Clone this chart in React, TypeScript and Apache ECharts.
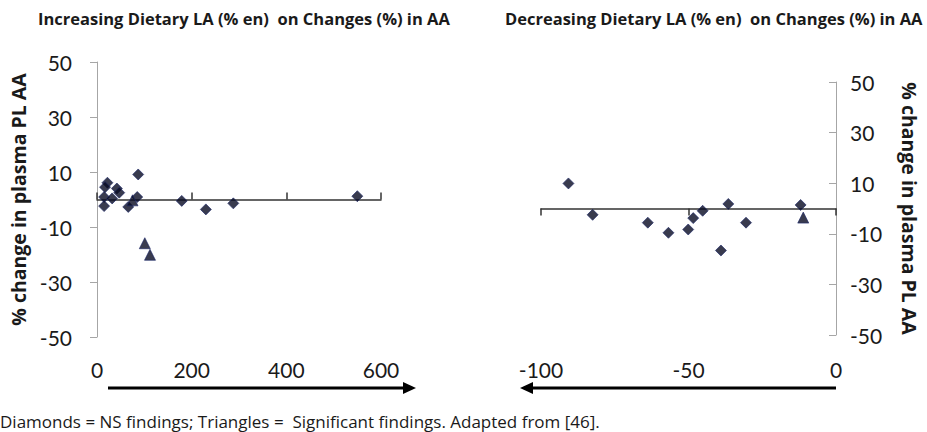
import React, { useEffect, useRef } from "react";
import * as echarts from "echarts";

const leftTitle = "Increasing Dietary LA (% en)  on Changes (%) in AA";
const rightTitle = "Decreasing Dietary LA (% en)  on Changes (%) in AA";
const yName = "% change in plasma PL AA";
const footnote = "Diamonds = NS findings; Triangles =  Significant findings. Adapted from [46].";

// Left panel: increasing LA
const leftDiamondX = [22, 17, 15, 15, 32, 42, 47, 66, 85, 87, 179, 230, 288, 550];
const leftDiamondY = [6.1, 4.5, 0.9, -2.4, 0.4, 4.0, 2.5, -2.7, 0.9, 9.1, -0.5, -3.6, -1.4, 1.2];
const leftTriangleX = [75, 101, 112];
const leftTriangleY = [-0.3, -15.9, -20.1];

// Right panel: decreasing LA
const rightDiamondX = [-90.7, -82.5, -63.8, -56.8, -50.1, -48.4, -45.2, -39.0, -36.5, -30.5, -12.0];
const rightDiamondY = [9.9, -2.5, -5.6, -9.6, -8.3, -3.8, -0.9, -16.6, 1.8, -5.6, 1.4];
const rightTriangleX = [-11.1];
const rightTriangleY = [-3.6];

const zip = (xs: number[], ys: number[]) => xs.map((x, i) => [x, ys[i]]);

const FONT = "Lato, 'Liberation Sans', sans-serif";
const BOLD_FONT = "'Open Sans', 'Liberation Sans', sans-serif";
const MARK = "#080a22";
const MARK_BORDER = "#1c2868";
const GRAY = "#a6a6a6";
const DARK = "#333333";

export default function App() {
  const ref = useRef<HTMLDivElement>(null);
  useEffect(() => {
    if (!ref.current) return;
    const chart = echarts.init(ref.current, null, { renderer: "svg" });
    const labelStyle = { fontSize: 21, color: "#1a1a1a", fontFamily: FONT };
    const nameStyle = { fontSize: 19.5, fontWeight: "bold" as const, color: "#1a1a1a", fontFamily: BOLD_FONT };
    const titleStyle = { fontSize: 16.5, fontWeight: "bold" as const, color: "#1a1a1a", fontFamily: BOLD_FONT };
    const markStyle = { color: MARK, borderColor: MARK_BORDER, borderWidth: 0.8 };
    chart.setOption({
      animation: false,
      backgroundColor: "#ffffff",
      textStyle: { fontFamily: FONT },
      title: [
        { text: leftTitle, left: 38, top: 10, padding: 0, textStyle: titleStyle },
        { text: rightTitle, left: 505, top: 10, padding: 0, textStyle: titleStyle },
      ],
      grid: [
        { left: 97, top: 62, width: 284, height: 275 },
        { left: 541, top: 82, width: 295, height: 253 },
      ],
      xAxis: [
        {
          gridIndex: 0, type: "value", min: 0, max: 600, interval: 200, position: "bottom",
          axisLine: { show: false, onZero: false }, axisTick: { show: false }, splitLine: { show: false },
          axisLabel: { ...labelStyle, margin: 22 },
        },
        {
          gridIndex: 0, type: "value", min: 0, max: 600, interval: 200, position: "bottom",
          axisLine: { show: true, onZero: true, lineStyle: { color: DARK, width: 1.5 } },
          axisTick: { show: true, inside: true, length: 7, lineStyle: { color: DARK, width: 1.5 } },
          axisLabel: { show: false }, splitLine: { show: false },
        },
        {
          gridIndex: 1, type: "value", min: -100, max: 0, interval: 50, position: "bottom",
          axisLine: { show: false, onZero: false }, axisTick: { show: false }, splitLine: { show: false },
          axisLabel: { ...labelStyle, margin: 24 },
        },
        {
          gridIndex: 1, type: "value", min: -100, max: 0, interval: 50, position: "bottom",
          axisLine: { show: true, onZero: true, lineStyle: { color: DARK, width: 1.5 } },
          axisTick: { show: true, inside: false, length: 7, lineStyle: { color: DARK, width: 1.5 } },
          axisLabel: { show: false }, splitLine: { show: false },
        },
      ],
      yAxis: [
        {
          gridIndex: 0, type: "value", min: -50, max: 50, interval: 20, position: "left",
          axisLine: { show: true, onZero: false, lineStyle: { color: GRAY, width: 1 } },
          axisTick: { show: true, inside: false, length: 7, lineStyle: { color: GRAY } },
          axisLabel: { ...labelStyle, margin: 25 }, splitLine: { show: false },
          name: yName, nameLocation: "middle", nameGap: 69, nameRotate: 90, nameTextStyle: nameStyle,
        },
        {
          gridIndex: 1, type: "value", min: -50, max: 50, interval: 20, position: "right",
          axisLine: { show: true, onZero: false, lineStyle: { color: GRAY, width: 1 } },
          axisTick: { show: true, inside: true, length: 7, lineStyle: { color: GRAY } },
          axisLabel: { ...labelStyle, margin: 14 }, splitLine: { show: false },
          name: yName, nameLocation: "middle", nameGap: 63, nameRotate: -90, nameTextStyle: nameStyle,
        },
      ],
      series: [
        { type: "scatter", xAxisIndex: 1, yAxisIndex: 0, symbol: "diamond", symbolSize: 11, itemStyle: markStyle, data: zip(leftDiamondX, leftDiamondY) },
        { type: "scatter", xAxisIndex: 1, yAxisIndex: 0, symbol: "triangle", symbolSize: 11, itemStyle: markStyle, data: zip(leftTriangleX, leftTriangleY) },
        { type: "scatter", xAxisIndex: 3, yAxisIndex: 1, symbol: "diamond", symbolSize: 11, itemStyle: markStyle, data: zip(rightDiamondX, rightDiamondY) },
        { type: "scatter", xAxisIndex: 3, yAxisIndex: 1, symbol: "triangle", symbolSize: 11, itemStyle: markStyle, data: zip(rightTriangleX, rightTriangleY) },
      ],
      graphic: [
        { type: "line", shape: { x1: 108, y1: 388, x2: 406, y2: 388 }, style: { stroke: "#000", lineWidth: 3 } },
        { type: "polygon", shape: { points: [[403, 382], [416, 388], [403, 394]] }, style: { fill: "#000" } },
        { type: "line", shape: { x1: 530, y1: 388, x2: 836, y2: 388 }, style: { stroke: "#000", lineWidth: 3 } },
        { type: "polygon", shape: { points: [[533, 382], [520, 388], [533, 394]] }, style: { fill: "#000" } },
        { type: "text", x: 0, y: 421, style: { text: footnote, fontSize: 17, fontFamily: BOLD_FONT, fill: "#1a1a1a", textVerticalAlign: "middle", textAlign: "left" } },
      ],
    });
    return () => chart.dispose();
  }, []);
  return <div ref={ref} style={{ position: "fixed", left: 0, top: 0, width: 927, height: 432 }} />;
}
